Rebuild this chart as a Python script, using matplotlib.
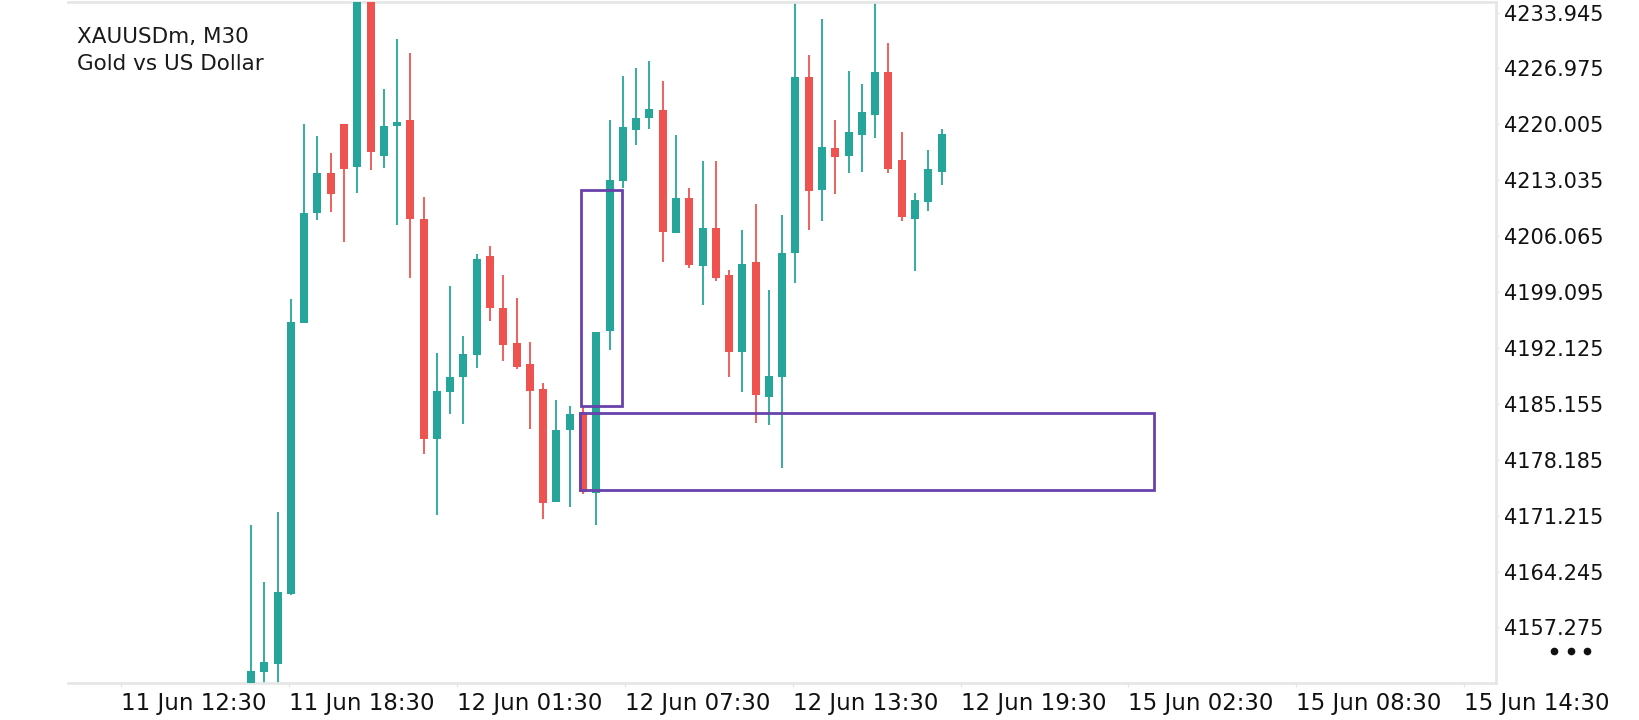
import numpy as np
import matplotlib
matplotlib.use("Agg")
import matplotlib.pyplot as plt
from matplotlib.lines import Line2D

# dados das velas M30 (open, high, low, close)
opens = [4149.0, 4151.7, 4152.7, 4161.4, 4195.3, 4208.9, 4213.9, 4220.1, 4214.7, 4238.0,
         4216.1, 4219.8, 4220.6, 4208.2, 4180.8, 4186.6, 4188.5, 4191.2, 4203.6, 4197.1,
         4192.7, 4190.1, 4187.0, 4172.9, 4181.9, 4184.1, 4174.0, 4194.2, 4212.9, 4219.3,
         4220.8, 4221.8, 4206.5, 4210.8, 4202.4, 4207.1, 4201.2, 4191.6, 4202.9, 4186.0,
         4188.5, 4204.0, 4225.9, 4211.8, 4217.0, 4216.0, 4218.7, 4221.2, 4226.5, 4215.6,
         4208.2, 4210.3, 4214.1]
highs = [4170.1, 4163.0, 4171.7, 4198.2, 4220.0, 4218.6, 4216.4, 4220.1, 4239.5, 4239.0,
         4224.4, 4230.6, 4228.9, 4210.9, 4191.5, 4199.9, 4193.6, 4203.8, 4204.9, 4201.2,
         4198.4, 4192.9, 4187.7, 4185.6, 4184.9, 4184.9, 4194.1, 4220.6, 4226.0, 4227.0,
         4227.9, 4225.4, 4218.7, 4212.1, 4215.4, 4215.4, 4201.9, 4206.8, 4210.1, 4199.4,
         4208.7, 4236.0, 4228.6, 4233.1, 4220.6, 4226.6, 4225.1, 4236.0, 4230.1, 4219.0,
         4211.4, 4216.8, 4219.4]
lows = [4148.5, 4148.5, 4149.0, 4161.3, 4195.3, 4208.1, 4209.1, 4205.3, 4211.5, 4214.3,
        4214.6, 4207.4, 4200.8, 4178.9, 4171.3, 4183.9, 4182.6, 4189.6, 4195.5, 4190.5,
        4189.5, 4182.0, 4170.8, 4172.9, 4172.3, 4173.9, 4170.0, 4191.9, 4212.1, 4217.4,
        4219.4, 4202.8, 4206.4, 4202.1, 4197.5, 4200.5, 4188.5, 4186.6, 4182.8, 4182.5,
        4177.1, 4200.2, 4206.8, 4208.0, 4211.3, 4213.9, 4214.1, 4218.3, 4214.0, 4208.0,
        4201.7, 4209.2, 4212.4]
closes = [4151.9, 4153.0, 4161.7, 4195.4, 4208.9, 4213.9, 4211.3, 4214.5, 4238.0, 4216.6,
          4219.8, 4220.3, 4208.2, 4180.8, 4186.7, 4188.5, 4191.4, 4203.2, 4197.1, 4192.5,
          4189.8, 4186.7, 4172.8, 4181.9, 4183.9, 4174.2, 4194.1, 4213.1, 4219.7, 4220.8,
          4221.9, 4206.6, 4210.8, 4202.5, 4207.1, 4200.9, 4191.6, 4202.6, 4186.3, 4188.6,
          4204.0, 4225.9, 4211.7, 4217.2, 4215.9, 4219.0, 4221.5, 4226.5, 4214.5, 4208.4,
          4210.6, 4214.4, 4218.8]

price_ticks = [4233.945, 4226.975, 4220.005, 4213.035, 4206.065, 4199.095,
               4192.125, 4185.155, 4178.185, 4171.215, 4164.245, 4157.275]
time_labels = ["11 Jun 12:30", "11 Jun 18:30", "12 Jun 01:30", "12 Jun 07:30",
               "12 Jun 13:30", "12 Jun 19:30", "15 Jun 02:30", "15 Jun 08:30",
               "15 Jun 14:30"]

# retangulos desenhados no grafico: (barra inicial, barra final, preco baixo, preco alto)
zone_bars = [(24.85, 27.94), (24.77, 67.97)]
zone_prices = [(4184.9, 4211.85), (4174.38, 4183.99)]

GREEN = "#26a69a"
RED = "#ef5350"
PURPLE = "#6842aa"
FRAME = "#e6e6e6"

fig = plt.figure(figsize=(16.4, 7.2), dpi=100)
ax = fig.add_axes([68 / 1640, 1 - 683 / 720, 1428 / 1640, 681.3 / 720])

o = np.array(opens)
h = np.array(highs)
l = np.array(lows)
c = np.array(closes)
x = np.arange(len(o))
cores = np.where(c >= o, GREEN, RED)

# pavios e corpos
ax.vlines(x, l, h, colors=cores, linewidth=1.3, zorder=2)
ax.bar(x, np.abs(c - o), bottom=np.minimum(o, c), width=0.6, color=cores,
       linewidth=0, zorder=3)

for (x0, x1), (p0, p1) in zip(zone_bars, zone_prices):
    ax.add_patch(plt.Rectangle((x0, p0), x1 - x0, p1 - p0, fill=False,
                               edgecolor=PURPLE, linewidth=2.0, zorder=4))

ax.set_xlim(-13.78, 93.75)
ax.set_ylim(4150.35, 4235.3)

# eixo de precos na direita
ax.yaxis.tick_right()
ax.set_yticks(price_ticks)
ax.set_yticklabels([f"{p:.3f}" for p in price_ticks], fontsize=15.0, color="#111111")
ax.tick_params(axis="y", length=2.5, width=1, color=FRAME, pad=3)

# eixo de tempo: rotulos a cada 12.64 barras, alinhados a esquerda
tick_pos = -9.77 + 12.64 * np.arange(len(time_labels))
ax.set_xticks(tick_pos)
ax.set_xticklabels(time_labels, fontsize=16.5, color="#111111", ha="left")
ax.tick_params(axis="x", length=3, width=1, color=FRAME, pad=3.2)

for lado in ["top", "right", "bottom"]:
    ax.spines[lado].set_color(FRAME)
    ax.spines[lado].set_linewidth(1.95)
ax.spines["left"].set_visible(False)

fig.text(76.7 / 1640, 1 - 42.7 / 720, "XAUUSDm, M30", fontsize=15.5,
         color="#1a1a1a", va="baseline")
fig.text(76.7 / 1640, 1 - 70.2 / 720, "Gold vs US Dollar", fontsize=15.5,
         color="#1a1a1a", va="baseline")

# menu de tres pontos no canto
dots_x = np.array([1554, 1571, 1587]) / 1640
fig.add_artist(Line2D(dots_x, [1 - 651 / 720] * 3, linestyle="none", marker="o",
                      markersize=4.5, color="#111111", transform=fig.transFigure))

fig.savefig("out.png", dpi=100, facecolor="white")
